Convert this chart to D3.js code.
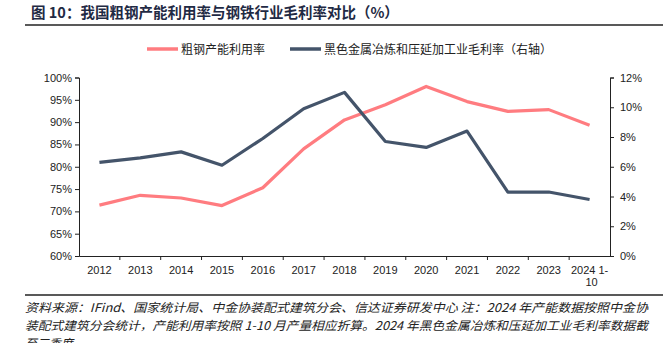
<!DOCTYPE html>
<html lang="zh">
<meta charset="utf-8">
<title>粗钢产能利用率与钢铁行业毛利率</title>
<style>
  body { margin: 0; background: #fff; }
  svg text { font-family: "Liberation Sans", Arial, sans-serif; }
</style>
<body>
<svg id="canvas"></svg>
<script src="https://cdn.jsdelivr.net/npm/d3@7"></script>
<script>
    ////////////////////// data ///////////////////////
    var years      = ["2012", "2013", "2014", "2015", "2016", "2017", "2018",
                      "2019", "2020", "2021", "2022", "2023", "2024 1-10"];
    var capUtil    = [71.4, 73.6, 73.0, 71.3, 75.3, 84.0, 90.5,
                      93.9, 98.0, 94.6, 92.4, 92.8, 89.3];
    var grossMargin = [6.3, 6.6, 7.0, 6.1, 7.9, 9.9, 11.0,
                       7.7, 7.3, 8.4, 4.3, 4.3, 3.8];
    var leftTicks  = [60, 65, 70, 75, 80, 85, 90, 95, 100];
    var rightTicks = [0, 2, 4, 6, 8, 10, 12];
    var seriesNames = ["粗钢产能利用率", "黑色金属冶炼和压延加工业毛利率（右轴）"];
    var titleText  = "图 10：我国粗钢产能利用率与钢铁行业毛利率对比（%）";
    var noteLines  = [
        "资料来源：IFind、国家统计局、中金协装配式建筑分会、信达证券研发中心    注：2024 年产能数据按照中金协",
        "装配式建筑分会统计，产能利用率按照 1-10 月产量相应折算。2024 年黑色金属冶炼和压延加工业毛利率数据截",
        "至三季度"
    ];
    ///////////////////////////////////////////////////

    ///////////////////// layout //////////////////////
    var W = 663, H = 343;
    var plot = { left: 79, right: 610, top: 77.5, bottom: 256 };
    var pink = "#ff7c80", navy = "#44546a", titleColor = "#1f2a44";

    var svg = d3.select("#canvas").attr("width", W).attr("height", H);

    var x = d3.scaleBand().domain(years).range([plot.left, plot.right]);
    var yL = d3.scaleLinear().domain([60, 100]).range([plot.bottom, plot.top]);
    var yR = d3.scaleLinear().domain([0, 12]).range([plot.bottom, plot.top]);
    ///////////////////////////////////////////////////

    ////////////////////// title //////////////////////
    svg.append("text")
        .attr("x", 31).attr("y", 18)
        .attr("fill", titleColor)
        .style("font-family", "'Noto Sans CJK SC', sans-serif")
        .style("font-weight", "bold")
        .style("font-size", "14.5px")
        .text(titleText);
    svg.append("line")
        .attr("x1", 25).attr("x2", W).attr("y1", 25).attr("y2", 25)
        .attr("stroke", "#222").attr("stroke-width", 1.5);
    ///////////////////////////////////////////////////

    ////////////////////// legend /////////////////////
    var legendPos = [{ x: 147, len: 31, color: pink },
                     { x: 290, len: 31, color: navy }];
    seriesNames.forEach(function (name, i) {
        var p = legendPos[i];
        svg.append("line")
            .attr("x1", p.x).attr("x2", p.x + p.len)
            .attr("y1", 49).attr("y2", 49)
            .attr("stroke", p.color).attr("stroke-width", 3.5);
        svg.append("text")
            .attr("x", p.x + p.len + 3).attr("y", 54)
            .style("font-family", "'Noto Sans CJK SC', sans-serif")
            .style("font-size", "12px")
            .attr("fill", "#222")
            .text(name);
    });
    ///////////////////////////////////////////////////

    /////////////////////// axes //////////////////////
    var tickFont = function (g) {
        g.selectAll("text").style("font-size", "11px").attr("fill", "#222")
            .style("font-family", "'Liberation Sans', Arial, sans-serif");
        g.selectAll("line, path").attr("stroke", "#222");
    };

    svg.append("g")
        .attr("transform", "translate(" + plot.left + ",0)")
        .call(d3.axisLeft(yL).tickValues(leftTicks).tickSize(4).tickPadding(3)
              .tickFormat(function (d) { return d + "%"; }))
        .call(tickFont);

    svg.append("g")
        .attr("transform", "translate(" + plot.right + ",0)")
        .call(d3.axisRight(yR).tickValues(rightTicks).tickSize(4).tickPadding(6)
              .tickFormat(function (d) { return d + "%"; }))
        .call(tickFont);

    var xAxis = svg.append("g")
        .attr("transform", "translate(0," + plot.bottom + ")")
        .call(d3.axisBottom(x).tickSize(0).tickPadding(10))
        .call(tickFont);
    xAxis.select(".domain").attr("stroke-width", 1.2);

    // tick marks on band boundaries
    xAxis.selectAll(".bandTick")
        .data(years.slice(1))
        .enter().append("line")
        .attr("x1", function (d) { return x(d); })
        .attr("x2", function (d) { return x(d); })
        .attr("y1", 0).attr("y2", 4)
        .attr("stroke", "#222");

    // wrap the last label onto two lines
    xAxis.selectAll(".tick text").each(function (d) {
        if (d.indexOf(" 1-") > 0) {
            var t = d3.select(this);
            var parts = [d.slice(0, d.indexOf("-") + 1), d.slice(d.indexOf("-") + 1)];
            t.text(null);
            t.append("tspan").attr("x", 0).text(parts[0]);
            t.append("tspan").attr("x", 2).attr("dy", "1.15em").text(parts[1]);
        }
    });
    ///////////////////////////////////////////////////

    /////////////////////// lines /////////////////////
    var cx = function (i) { return x(years[i]) + x.bandwidth() / 2; };

    svg.append("path")
        .datum(capUtil)
        .attr("fill", "none").attr("stroke", pink).attr("stroke-width", 3.2)
        .attr("stroke-linejoin", "round")
        .attr("d", d3.line().x(function (d, i) { return cx(i); })
                            .y(function (d) { return yL(d); }));

    svg.append("path")
        .datum(grossMargin)
        .attr("fill", "none").attr("stroke", navy).attr("stroke-width", 3.2)
        .attr("stroke-linejoin", "round")
        .attr("d", d3.line().x(function (d, i) { return cx(i); })
                            .y(function (d) { return yR(d); }));
    ///////////////////////////////////////////////////

    ////////////////////// source /////////////////////
    svg.append("line")
        .attr("x1", 25).attr("x2", W).attr("y1", 295).attr("y2", 295)
        .attr("stroke", "#222").attr("stroke-width", 1.5);
    noteLines.forEach(function (line, i) {
        var t = svg.append("text")
            .attr("x", 25).attr("y", 312 + i * 18)
            .attr("fill", "#222")
            .style("font-family", "'Noto Sans CJK SC', sans-serif")
            .style("font-style", "italic")
            .style("font-size", "12px")
            .text(line);
        if (i < 2) t.attr("textLength", 623).attr("lengthAdjust", "spacingAndGlyphs");
    });
    ///////////////////////////////////////////////////
</script>
</body>
</html>
